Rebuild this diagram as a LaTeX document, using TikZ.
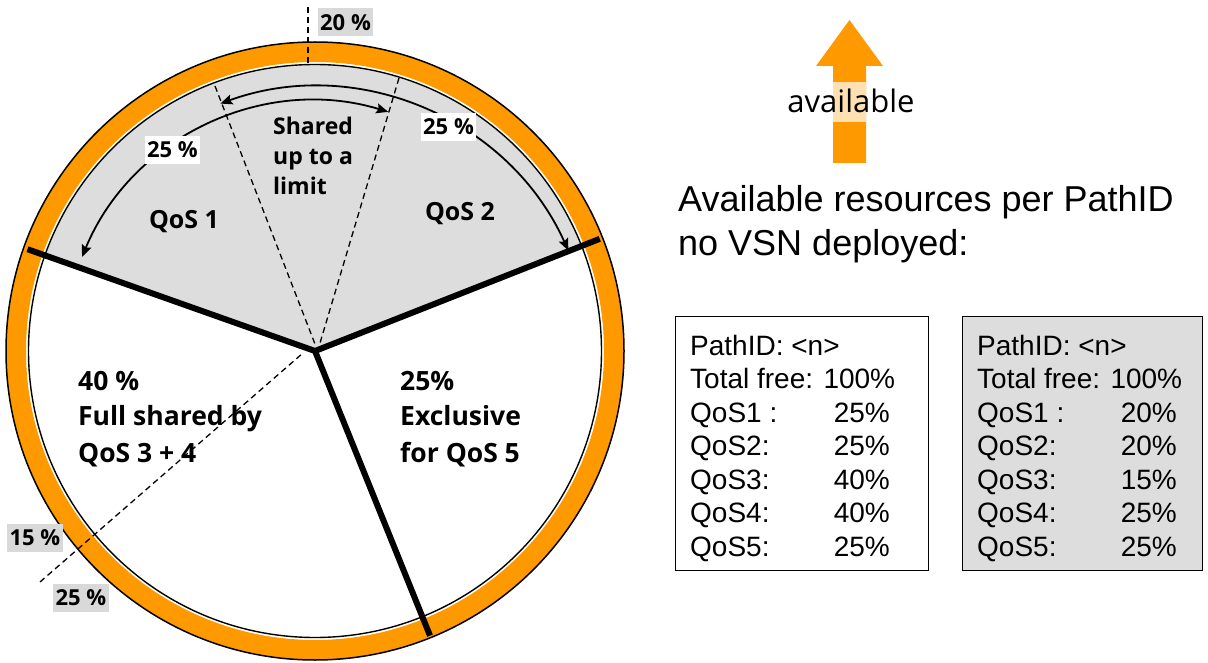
\documentclass[tikz,border=0pt]{standalone}
\usepackage{fontspec}
\setmainfont{Liberation Sans}
\newfontfamily\osfont{Open Sans}
\usetikzlibrary{arrows.meta}
\definecolor{ring}{RGB}{255,153,0}
\definecolor{sectorgray}{RGB}{221,221,221}
\definecolor{tagfill}{RGB}{217,217,217}
\begin{document}
\begin{tikzpicture}[x=1pt,y=1pt,
  dashline/.style={dash pattern=on 6pt off 4pt, line width=1.3pt},
  thickline/.style={line width=6pt},
  dimarrow/.style={line width=1.8pt, {Stealth[length=12pt,width=10pt,inset=2pt]}-{Stealth[length=12pt,width=10pt,inset=2pt]}},
  pcttag/.style={font=\osfont\bfseries\fontsize{22}{26}\selectfont, inner xsep=2.5pt, inner ysep=0pt, minimum height=28pt},
  pielabel/.style={font=\osfont\bfseries\fontsize{26.5}{30}\selectfont, anchor=base west, inner sep=0pt},
  sharedlabel/.style={font=\osfont\bfseries\fontsize{23}{26}\selectfont, anchor=base west, inner sep=0pt},
  qoslabel/.style={font=\osfont\bfseries\fontsize{25}{28}\selectfont, anchor=base, inner sep=0pt},
  headtext/.style={font=\fontsize{36}{42}\selectfont, anchor=base west, inner sep=0pt},
  boxtext/.style={font=\fontsize{28}{33}\selectfont, anchor=base west, inner sep=0pt},
  boxval/.style={font=\fontsize{28}{33}\selectfont, anchor=base east, inner sep=0pt},
  infobox/.style={draw, line width=1.2pt, anchor=north west, inner sep=0pt, minimum height=254pt}
]
\useasboundingbox (0,0) rectangle (1208,-663);
\coordinate (C) at (315,-351);
% ring
\fill[ring, even odd rule] (C) circle[radius=309pt] (C) circle[radius=289pt];
\draw[line width=1.5pt] (C) circle[radius=309pt];
% grey sector
\fill[sectorgray] (C) -- ++(21.5:286pt) arc[start angle=21.5, end angle=160.5, radius=286pt] -- cycle;
\draw[line width=1.4pt] (C) circle[radius=286.5pt];
% dashed lines
\coordinate (dl1) at (215,-86);  \coordinate (dl2) at (315,-344);
\coordinate (dr1) at (399,-78);  \coordinate (dr2) at (320,-343);
\coordinate (dt1) at (308,-7);   \coordinate (dt2) at (308,-63);
\coordinate (dd1) at (40,-582);  \coordinate (dd2) at (303,-353);
\draw[dashline] (dl1) -- (dl2);
\draw[dashline] (dr1) -- (dr2);
\draw[dashline] (dt1) -- (dt2);
\draw[dashline] (dd1) -- (dd2);
% thick separators
\draw[thickline] (C) ++(160.5:305pt) -- (C) -- ++(21.5:306pt);
\draw[thickline] (C) -- ++(-68:307pt);
% dimension arcs
\coordinate (A1) at (315,-353);
\coordinate (A2) at (315,-365);
\draw[dimarrow] (A1) ++(157.6:252pt) arc[start angle=157.6, end angle=73.1, radius=252pt];
\draw[dimarrow] (A2) ++(109.9:278pt) arc[start angle=109.9, end angle=24.3, radius=278pt];
% percentage tags
\node[pcttag, fill=tagfill] (t20) at (345.5,-22.5) {20 \%};
\node[pcttag, fill=white] (t25a) at (172.5,-150) {25 \%};
\node[pcttag, fill=white] (t25b) at (448.5,-127) {25 \%};
\node[pcttag, fill=tagfill] (t15) at (35,-538) {15 \%};
\node[pcttag, fill=tagfill] (t25c) at (81,-598) {25 \%};
% pie texts
\node[sharedlabel] (sh1) at (273,-135) {Shared};
\node[sharedlabel] (sh2) at (273,-165) {up to a};
\node[sharedlabel] (sh3) at (273,-195) {limit};
\node[qoslabel] (q1) at (184,-229) {QoS 1};
\node[qoslabel] (q2) at (460,-221) {QoS 2};
\node[pielabel] (l1) at (78,-390) {40 \%};
\node[pielabel] (l2) at (78,-425) {Full shared by};
\node[pielabel] (l3) at (78,-462) {QoS 3 + 4};
\node[pielabel] (r1) at (400,-390) {25\%};
\node[pielabel] (r2) at (400,-425) {Exclusive};
\node[pielabel] (r3) at (400,-462) {for QoS 5};
% available arrow
\fill[ring] (833,-163) -- (833,-66) -- (816,-66) -- (849.5,-20) -- (883,-66) -- (866,-66) -- (866,-163) -- cycle;
\fill[ring!30!white] (833,-82) rectangle (866,-122);
\node[font=\osfont\fontsize{31}{36}\selectfont, anchor=base, inner sep=0pt] (avail) at (851,-113) {available};
% heading
\node[headtext] (h1) at (678,-212) {Available resources per PathID};
\node[headtext] (h2) at (678,-255) {no VSN deployed:};
% boxes
\node[infobox, minimum width=253pt] (boxA) at (675,-316) {};
\node[infobox, minimum width=240pt, fill=sectorgray] (boxB) at (962,-316) {};
\node[boxtext] (a0) at (690,-355) {PathID: <n>};
\node[boxtext] (a1) at (690,-388.5) {Total free: 100\%};
\node[boxtext] (b0) at (977,-355) {PathID: <n>};
\node[boxtext] (b1) at (977,-388.5) {Total free: 100\%};
\foreach \i/\lab/\va/\vb in {2/QoS1 :/25/20, 3/QoS2:/25/20, 4/QoS3:/40/15, 5/QoS4:/40/25, 6/QoS5:/25/25}{
  \node[boxtext] (al\i) at (690,{-355-33.5*\i}) {\lab};
  \node[boxval] (av\i) at (890,{-355-33.5*\i}) {\va\%};
  \node[boxtext] (bl\i) at (977,{-355-33.5*\i}) {\lab};
  \node[boxval] (bv\i) at (1177,{-355-33.5*\i}) {\vb\%};
}
\end{tikzpicture}
\end{document}
